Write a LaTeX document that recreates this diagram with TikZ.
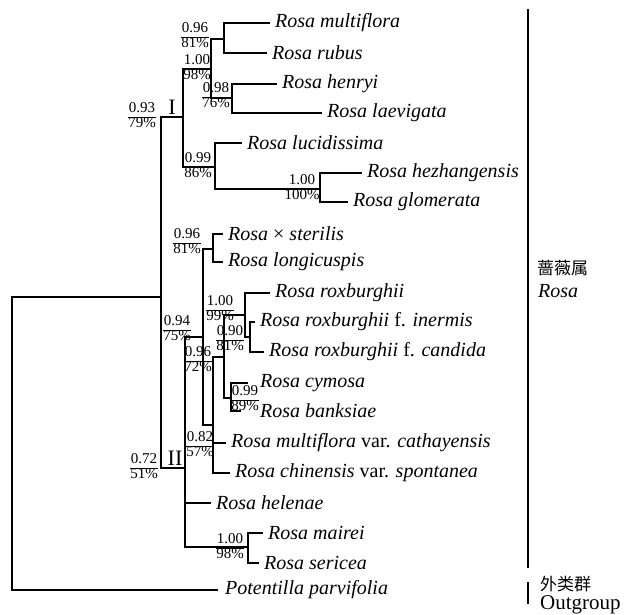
\documentclass[tikz,border=0pt]{standalone}
\usepackage{fontspec}
\setmainfont{Liberation Serif}
\newfontfamily\cjk{Noto Sans CJK SC}
\usetikzlibrary{positioning}
% support value: posterior probability over bootstrap
\newcommand\ps[2]{{\renewcommand\arraystretch{0.8}\setlength\arrayrulewidth{0.9pt}\begin{tabular}{@{}c@{}}#1\\\hline #2\end{tabular}}}

\begin{document}
\begin{tikzpicture}[
  x=1pt,y=-1pt,
  br/.style={line width=2.8pt,line cap=rect},
  tip/.style={anchor=west,inner xsep=6pt,inner ysep=0pt,font=\fontsize{20}{22}\selectfont\itshape},
  supp/.style={inner sep=0pt,font=\fontsize{15}{15}\selectfont},
  clade/.style={anchor=south,inner sep=0pt,font=\fontsize{22}{22}\selectfont},
  side/.style={anchor=west,inner sep=0pt,font=\fontsize{20}{20}\selectfont}
]
  \useasboundingbox (0,0) rectangle (626,615);
  % internal nodes
  \coordinate (root) at (12,297);
  \coordinate (nR) at (161,297);
  \coordinate (nI) at (183,117);
  \coordinate (nIa) at (211,69);
  \coordinate (nIa1) at (224,39);
  \coordinate (nIa2) at (232,98);
  \coordinate (nIb) at (215,167);
  \coordinate (nIb1) at (320,189);
  \coordinate (nII) at (185,468);
  \coordinate (nIIa) at (203,337);
  \coordinate (nIIa1) at (213,249);
  \coordinate (nIIb) at (213,425);
  \coordinate (nIIc) at (224,357);
  \coordinate (nIIc1) at (245,315);
  \coordinate (nIIc2) at (250,337);
  \coordinate (nIIc3) at (231,398);
  \coordinate (nIId) at (248,547);
  % tips
  \node[tip] (tmul) at (269,23) {Rosa multiflora};
  \node[tip] (trub) at (266,53) {Rosa rubus};
  \node[tip] (then) at (276,84) {Rosa henryi};
  \node[tip] (tlae) at (321,113) {Rosa laevigata};
  \node[tip] (tluc) at (241,143) {Rosa lucidissima};
  \node[tip] (thez) at (361,173) {Rosa hezhangensis};
  \node[tip] (tglo) at (347,202) {Rosa glomerata};
  \node[tip] (tste) at (222,234) {Rosa \textup{×} sterilis};
  \node[tip] (tlon) at (222,262) {Rosa longicuspis};
  \node[tip] (trox) at (269,293) {Rosa roxburghii};
  \node[tip] (tine) at (254,322) {Rosa roxburghii \textup{f.} inermis};
  \node[tip] (tcan) at (263,352) {Rosa roxburghii \textup{f.} candida};
  \node[tip,inner xsep=13pt] (tcym) at (247,383) {Rosa cymosa};
  \node[tip,inner xsep=20pt] (tban) at (240,411) {Rosa banksiae};
  \node[tip] (tcat) at (225,443) {Rosa multiflora \textup{var.} cathayensis};
  \node[tip] (tchi) at (229,473) {Rosa chinensis \textup{var.} spontanea};
  \node[tip] (thel) at (210,503) {Rosa helenae};
  \node[tip] (tmai) at (262,533) {Rosa mairei};
  \node[tip] (tser) at (258,563) {Rosa sericea};
  \node[tip,inner xsep=8pt] (tpot) at (217,590) {Potentilla parvifolia};
  % branches
  \foreach \a/\b in {root/nR,nR/nI,nR/nII,nI/nIa,nI/nIb,nIa/nIa1,nIa/nIa2,nIb/nIb1,
    nII/nIIa,nII/nIId,nIIa/nIIa1,nIIa/nIIb,nIIb/nIIc,nIIc/nIIc1,nIIc/nIIc3,nIIc1/nIIc2}
    \draw[br] (\a) |- (\b);
  \foreach \a/\b in {root/tpot,nIa1/tmul,nIa1/trub,nIa2/then,nIa2/tlae,nIb/tluc,nIb1/thez,
    nIb1/tglo,nIIa1/tste,nIIa1/tlon,nIIc1/trox,nIIc2/tine,nIIc2/tcan,nIIc3/tcym,nIIc3/tban,
    nIIb/tcat,nIIb/tchi,nII/thel,nIId/tmai,nIId/tser}
    \draw[br] (\a) |- (\b.west);
  % support values
  \node[supp] (s1) at (142,117) {\ps{0.93}{79\%}};
  \node[supp] (s2) at (195,37) {\ps{0.96}{81\%}};
  \node[supp] (s3) at (197,69) {\ps{1.00}{98\%}};
  \node[supp] (s4) at (216,97) {\ps{0.98}{76\%}};
  \node[supp] (s5) at (198,167) {\ps{0.99}{86\%}};
  \node[supp] (s6) at (302,189) {\ps{1.00}{100\%}};
  \node[supp] (s7) at (187,243) {\ps{0.96}{81\%}};
  \node[supp] (s8) at (177,330) {\ps{0.94}{75\%}};
  \node[supp] (s9) at (220,310) {\ps{1.00}{99\%}};
  \node[supp] (s10) at (230,340) {\ps{0.90}{81\%}};
  \node[supp] (s11) at (198,361) {\ps{0.96}{72\%}};
  \node[supp] (s12) at (245,400) {\ps{0.99}{89\%}};
  \node[supp] (s13) at (200,446) {\ps{0.82}{57\%}};
  \node[supp] (s14) at (144,468) {\ps{0.72}{51\%}};
  \node[supp] (s15) at (230,548) {\ps{1.00}{98\%}};
  % clades
  \node[clade] (cI) at (172,115) {I};
  \node[clade] (cII) at (175,466) {II};
  % genus and outgroup brackets
  \draw[br] (528,10) -- (528,567);
  \draw[br] (528,583) -- (528,603);
  \node[side,font=\cjk\fontsize{17}{17}\selectfont] (lgen) at (537,268) {蔷薇属};
  \node[side,font=\fontsize{20}{20}\selectfont\itshape] (lrosa) at (538,291) {Rosa};
  \node[side,font=\cjk\fontsize{17}{17}\selectfont] (lout) at (540,584) {外类群};
  \node[side,font=\fontsize{21}{21}\selectfont] (loutg) at (540,605) {Outgroup};
\end{tikzpicture}
\end{document}
